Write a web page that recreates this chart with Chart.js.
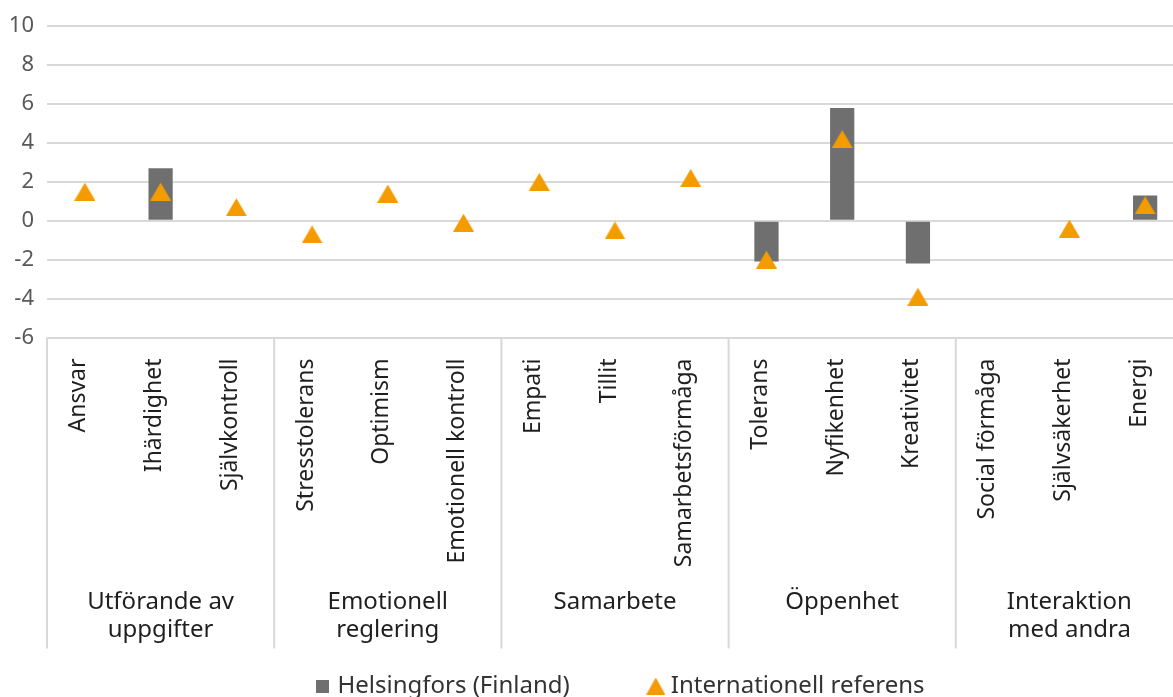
<!DOCTYPE html>
<html>
<head>
<meta charset="utf-8">
<script src="https://cdn.jsdelivr.net/npm/chart.js@4.4.1/dist/chart.umd.min.js"></script>
<style>
  html, body { margin: 0; padding: 0; background: #ffffff; overflow: hidden; width: 1173px; height: 697px; }
  canvas { display: block; }
</style>
</head>
<body>
<canvas id="chart" width="1244" height="708"></canvas>
<script>
// Skills, grouped into five domains
const categories = [
  'Ansvar', 'Ihärdighet', 'Självkontroll',
  'Stresstolerans', 'Optimism', 'Emotionell kontroll',
  'Empati', 'Tillit', 'Samarbetsförmåga',
  'Tolerans', 'Nyfikenhet', 'Kreativitet',
  'Social förmåga', 'Självsäkerhet', 'Energi'
];
const groupNames = [
  ['Utförande av', 'uppgifter'],
  ['Emotionell', 'reglering'],
  ['Samarbete'],
  ['Öppenhet'],
  ['Interaktion', 'med andra']
];
const groupSizes = [3, 3, 3, 3, 3];

// Differences per skill
const helsingfors = [null, 2.7, null, null, null, null, null, null, null, -2.1, 5.8, -2.2, null, null, 1.3];
const internationell = [1.5, 1.5, 0.7, -0.7, 1.4, -0.1, 2.0, -0.5, 2.2, -2.0, 4.2, -3.9, null, -0.4, 0.8];

const yTicks = [-6, -4, -2, 0, 2, 4, 6, 8, 10];
const seriesNames = ['Helsingfors (Finland)', 'Internationell referens'];

const FONT = '"Noto Sans", "Open Sans", sans-serif';
const BAR_COLOR = '#6f6f6f';
const TRI_COLOR = '#f49b00';
const LINE_COLOR = '#d9d9d9';

// Marker images: triangle centred on its box, plain square for the legend
function triangleMarker(w, h, color) {
  const c = document.createElement('canvas');
  c.width = w; c.height = h;
  const g = c.getContext('2d');
  g.fillStyle = color;
  g.beginPath();
  g.moveTo(w / 2, 0);
  g.lineTo(w, h);
  g.lineTo(0, h);
  g.closePath();
  g.fill();
  return c;
}
function squareMarker(s, color) {
  const c = document.createElement('canvas');
  c.width = s; c.height = s;
  const g = c.getContext('2d');
  g.fillStyle = color;
  g.fillRect(0, 0, s, s);
  return c;
}
const triImg = triangleMarker(21, 18, TRI_COLOR);
const legendMarkers = [squareMarker(13, BAR_COLOR), triangleMarker(19, 17, TRI_COLOR)];

// Second category level: domain separators and domain names under the skill labels
const AXIS_BAND = 311;
const groupAxis = {
  id: 'groupAxis',
  afterDraw(chart) {
    const { ctx, chartArea, scales } = chart;
    const x = scales.x;
    const half = (x.getPixelForTick(1) - x.getPixelForTick(0)) / 2;
    const top = chartArea.bottom;
    const bottom = top + AXIS_BAND;
    const bounds = [x.getPixelForTick(0) - half];
    let idx = 0;
    groupSizes.forEach(n => { idx += n; bounds.push(x.getPixelForTick(idx - 1) + half); });

    ctx.save();
    ctx.strokeStyle = LINE_COLOR;
    ctx.lineWidth = 2;
    bounds.forEach(b => {
      ctx.beginPath();
      ctx.moveTo(b, top);
      ctx.lineTo(b, bottom);
      ctx.stroke();
    });
    ctx.fillStyle = '#1f1f1f';
    ctx.font = '24px ' + FONT;
    ctx.textAlign = 'center';
    ctx.textBaseline = 'middle';
    groupNames.forEach((lines, g) => {
      const cx = (bounds[g] + bounds[g + 1]) / 2;
      lines.forEach((t, k) => ctx.fillText(t, cx, top + 265 + k * 28));
    });
    ctx.restore();
  }
};

new Chart(document.getElementById('chart'), {
  type: 'bar',
  data: {
    labels: categories,
    datasets: [
      {
        type: 'bar',
        label: seriesNames[0],
        data: helsingfors,
        backgroundColor: BAR_COLOR,
        borderWidth: 0,
        barPercentage: 0.32,
        categoryPercentage: 1,
        order: 2
      },
      {
        type: 'line',
        label: seriesNames[1],
        data: internationell,
        showLine: false,
        pointStyle: triImg,
        pointRadius: 10,
        backgroundColor: TRI_COLOR,
        borderColor: TRI_COLOR,
        order: 1
      }
    ]
  },
  options: {
    responsive: false,
    devicePixelRatio: 1,
    animation: false,
    events: [],
    layout: { padding: { left: 0, right: 0, top: 26, bottom: 0 } },
    scales: {
      x: {
        grid: { display: false },
        border: { display: false },
        ticks: {
          autoSkip: false,
          maxRotation: 90,
          minRotation: 90,
          padding: 13,
          labelOffset: -6,
          color: '#1f1f1f',
          font: { family: FONT, size: 23 }
        },
        afterFit(s) { s.height = 253.5; }
      },
      y: {
        min: yTicks[0],
        max: yTicks[yTicks.length - 1],
        grid: { color: LINE_COLOR, lineWidth: 2, drawTicks: false },
        border: { display: false },
        ticks: {
          stepSize: yTicks[1] - yTicks[0],
          padding: 13,
          color: '#595959',
          font: { family: FONT, size: 22 }
        },
        afterFit(s) { s.width = 47; }
      },
      yRight: {
        position: 'right',
        display: true,
        grid: { display: false },
        border: { display: false },
        ticks: { display: false },
        afterFit(s) { s.width = 61; }
      }
    },
    plugins: {
      tooltip: { enabled: false },
      legend: {
        position: 'bottom',
        labels: {
          usePointStyle: true,
          boxWidth: 6,
          boxHeight: 12,
          padding: 83,
          color: '#333333',
          font: { family: FONT, size: 24 },
          generateLabels(chart) {
            const items = Chart.defaults.plugins.legend.labels.generateLabels(chart);
            items.forEach(it => { it.pointStyle = legendMarkers[it.datasetIndex]; });
            return items;
          },
          sort: (a, b) => a.datasetIndex - b.datasetIndex
        }
      }
    }
  },
  plugins: [groupAxis]
});
</script>
</body>
</html>
